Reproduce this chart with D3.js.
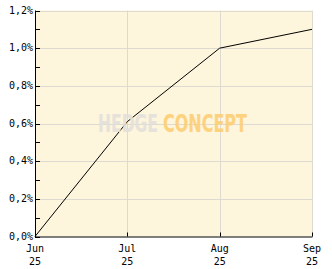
<!DOCTYPE html>
<html>
<head>
<meta charset="utf-8">
<script src="https://cdn.jsdelivr.net/npm/d3@7.9.0/dist/d3.min.js"></script>
<style>
  body { margin: 0; background: #fff; }
  svg { display: block; }
  text { font-family: "DejaVu Sans Mono", monospace; font-size: 10px; fill: #000; }
</style>
</head>
<body>
<svg id="chart" width="332" height="269"></svg>
<script>
const months = ["Jun", "Jul", "Aug", "Sep"];
const years = ["25", "25", "25", "25"];
const values = [0, 0.61, 1.0, 1.1];
const yTicks = [0, 0.2, 0.4, 0.6, 0.8, 1.0, 1.2];
const yMinorTicks = [0.1, 0.3, 0.5, 0.7, 0.9, 1.1];

const svg = d3.select("#chart");
const plotLeft = 35, plotRight = 312, plotTop = 10.5, plotBottom = 236.5;

const x = d3.scalePoint().domain(months).range([plotLeft, plotRight]);
const y = d3.scaleLinear().domain([0, 1.2]).range([plotBottom, plotTop]);

// plot background
svg.append("rect")
  .attr("x", plotLeft).attr("y", plotTop)
  .attr("width", plotRight - plotLeft).attr("height", plotBottom - plotTop)
  .attr("fill", "#fdf5dc");

// grid lines
svg.append("g").selectAll("line").data(yTicks.slice(1))
  .join("line")
  .attr("x1", plotLeft).attr("x2", plotRight + 0.5)
  .attr("y1", (d) => Math.round(y(d)) + 0.5).attr("y2", (d) => Math.round(y(d)) + 0.5)
  .attr("stroke", "#dddad2");

svg.append("g").selectAll("line").data(months.slice(1))
  .join("line")
  .attr("x1", (d) => Math.round(x(d)) + 0.5).attr("x2", (d) => Math.round(x(d)) + 0.5)
  .attr("y1", plotTop).attr("y2", plotBottom)
  .attr("stroke", "#dddad2");

// data line
const line = d3.line()
  .x((d, i) => x(months[i]))
  .y((d) => y(d));

svg.append("path")
  .datum(values)
  .attr("d", line)
  .attr("fill", "none")
  .attr("stroke", "#000")
  .attr("stroke-width", 1);

// watermark, drawn over the line so the line shows faintly through it
function watermark(word, x0, width, color) {
  const t = svg.append("text")
    .attr("opacity", 0.9)
    .style("font-family", "'Liberation Sans Narrow', 'DejaVu Sans Condensed', sans-serif")
    .style("font-weight", "bold").style("font-size", "25px")
    .style("fill", color)
    .text(word);
  const sx = width / t.node().getComputedTextLength();
  t.attr("transform", `translate(${x0},132) scale(${sx},1)`);
}
watermark("HEDGE", 98, 60, "#e3e0db");
watermark("CONCEPT", 163, 84, "#fdcf74");

// axes
svg.append("line")
  .attr("x1", plotLeft + 0.5).attr("x2", plotLeft + 0.5)
  .attr("y1", plotTop).attr("y2", plotBottom + 0.5)
  .attr("stroke", "#000");
svg.append("line")
  .attr("x1", plotLeft).attr("x2", plotRight + 0.5)
  .attr("y1", plotBottom + 0.5).attr("y2", plotBottom + 0.5)
  .attr("stroke", "#000");

// y ticks (inward)
svg.append("g").selectAll("line").data(yTicks.concat(yMinorTicks))
  .join("line")
  .attr("x1", plotLeft).attr("x2", plotLeft + 5)
  .attr("y1", (d) => Math.round(y(d)) + 0.5).attr("y2", (d) => Math.round(y(d)) + 0.5)
  .attr("stroke", "#000");

svg.append("g").selectAll("text").data(yTicks)
  .join("text")
  .attr("x", plotLeft - 2)
  .attr("y", (d) => y(d) + 3)
  .attr("text-anchor", "end")
  .text((d) => d3.format(".1f")(d).replace(".", ",") + "%");

// x ticks (inward)
svg.append("g").selectAll("line").data(months)
  .join("line")
  .attr("x1", (d) => Math.round(x(d)) + 0.5).attr("x2", (d) => Math.round(x(d)) + 0.5)
  .attr("y1", plotBottom - 4).attr("y2", plotBottom)
  .attr("stroke", "#000");

const xl = svg.append("g").selectAll("text").data(months)
  .join("text")
  .attr("text-anchor", "middle")
  .attr("x", (d) => x(d));
xl.append("tspan").attr("x", (d) => x(d)).attr("y", 252).text((d) => d);
xl.append("tspan").attr("x", (d) => x(d)).attr("y", 265).text((d, i) => years[i]);
</script>
</body>
</html>
